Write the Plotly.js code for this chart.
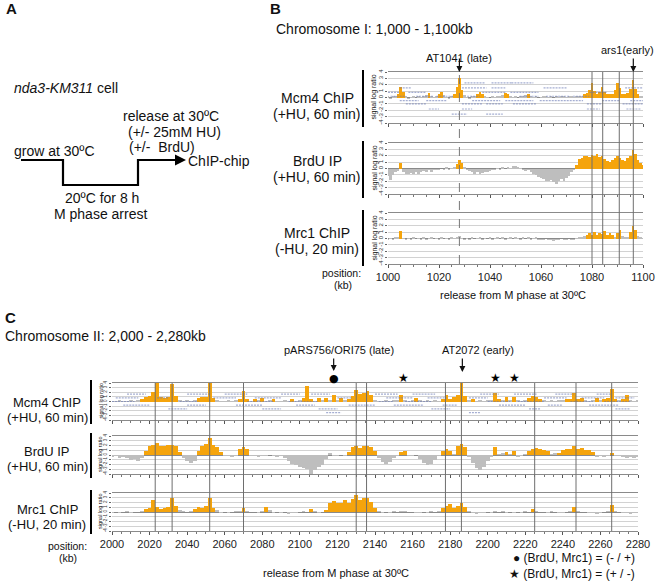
<!DOCTYPE html>
<html><head><meta charset="utf-8">
<script src="https://cdn.plot.ly/plotly-3.0.1.min.js"></script>
<style>html,body{margin:0;padding:0;background:#fff}#chart{width:664px;height:582px}</style>
</head><body><div id="chart"></div>
<script>
// ---------------- DATA ----------------
const trackNames = ["Mcm4 ChIP", "BrdU IP", "Mrc1 ChIP"];
const trackConds = ["(+HU, 60 min)", "(+HU, 60 min)", "(-HU, 20 min)"];
const yTickVals = [-4,-3,-2,-1,0,1,2,3,4];

// Panel B: chromosome I, 1000-1100 kb, one probe value per kb
const startB = 1000, stepB = 1;
const mcm4B = [0.2,-0.2,0.3,0.2,0.6,1.6,0.8,0.2,-0.2,0.1,
 0.2,-0.1,0.2,0.1,0.3,0.4,0.7,0.3,0.1,0.2,
 0.5,0.9,0.4,0.1,-0.2,0.2,0.5,1.6,3.0,1.2,
 0.4,0.1,-0.2,0.2,0.3,0.5,0.9,0.6,0.2,0.1,
 -0.1,0.2,0.1,0.3,0.2,0.4,0.7,0.5,0.2,0.1,
 0.2,-0.1,0.2,0.3,0.4,0.6,0.3,0.1,0.2,-0.1,
 0.1,0.2,0.3,0.1,0.2,-0.1,0.2,0.1,0.3,0.2,
 0.1,0.2,0.3,0.1,0.2,0.3,0.2,0.5,0.7,1.2,
 2.2,1.0,0.6,0.9,1.7,0.8,0.6,0.5,0.6,1.2,
 2.2,1.5,0.6,0.5,0.7,1.4,2.8,1.3,0.6,0.3,0.2];
const brduB = [-1.2,-1.8,-1.0,-0.6,-0.4,0.9,-0.5,-0.8,-0.9,-0.7,
 -0.9,-0.6,-0.8,-0.5,-0.4,-0.6,-0.3,-0.5,-0.3,-0.2,
 -0.3,-0.1,-0.2,0.2,-0.2,0.1,0.3,0.7,1.3,0.8,
 0.3,-0.2,-0.4,-0.6,-0.8,-0.6,-0.9,-0.7,-0.5,-0.6,
 -0.4,-0.3,-0.2,0.1,-0.2,0.2,-0.1,0.3,0.1,0.4,
 0.4,0.3,0.1,-0.2,-0.4,-0.3,-0.6,-0.8,-1.0,-1.3,
 -1.5,-1.7,-1.9,-2.0,-1.8,-2.1,-2.4,-2.0,-1.7,-1.9,
 -1.5,-1.2,-0.5,-0.2,0.6,1.5,1.7,2.0,2.0,1.8,
 2.1,1.9,2.2,1.8,2.0,1.5,1.2,1.0,1.3,1.6,
 1.9,1.7,1.4,1.2,1.6,2.0,2.9,2.2,1.4,0.9,0.6];
const mrc1B = [-0.2,0.1,-0.3,0.2,0.3,1.2,0.1,-0.2,0.1,-0.3,
 0.2,-0.1,0.1,-0.2,0.2,-0.3,0.1,0.2,-0.1,0.1,
 -0.2,0.2,-0.1,0.1,-0.3,0.2,0.1,0.2,0.4,0.1,
 -0.2,0.1,-0.3,0.2,-0.1,0.1,0.2,-0.2,0.1,-0.1,
 0.2,-0.2,0.1,0.3,-0.1,0.2,-0.2,0.1,0.3,-0.1,
 0.2,0.1,-0.2,0.2,-0.1,0.3,-0.2,0.1,0.2,-0.3,
 -0.2,-0.3,-0.1,-0.3,-0.2,-0.4,-0.2,-0.3,-0.1,-0.3,
 -0.2,-0.1,-0.3,-0.2,0.1,0.2,0.3,0.4,0.5,0.8,
 0.6,1.0,0.5,0.9,0.7,1.1,0.6,0.8,0.5,0.3,
 0.9,1.3,0.4,0.2,0.3,1.0,2.0,1.3,0.4,0.2,0.1];
const originsB = [1080, 1084.2, 1090.7, 1096.2];
const lateOriginB = 1028;
const earlyOriginB = 1096.2;
const tickValsB = [1000,1020,1040,1060,1080,1100];
// gene annotation features drawn in the Mcm4 track (start kb, end kb, row level)
const geneStartB = [1030,1040.6,1048.4, 1004.6,1029,1040.6,1061,1093, 1000,1008,1037,1048,1079,
  1001,1011,1019,1031,1051.6,1062,1072.5, 1004.6,1015,1033,1046,1059.5,1084,1095,
  1007,1029,1038.5,1049,1078,1092, 1016,1029,1078,1093.5, 1025,1038.5];
const geneEndB = [1038,1048.4,1057, 1009,1038.6,1046,1070,1100, 1004.6,1015,1046,1059,1086,
  1007,1017.6,1025.5,1036,1059,1071,1079, 1012,1023,1044,1057,1076.5,1091,1100,
  1015,1037,1045,1058,1084,1100, 1020,1033,1083,1099, 1031,1045];
const geneRowB = [2.3,2.3,2.3, 1.5,1.5,1.5,1.5,1.5, 0.8,0.8,0.8,0.8,0.8,
  0.2,0.2,0.2,0.2,0.2,0.2,0.2, -0.5,-0.5,-0.5,-0.5,-0.5,-0.5,-0.5,
  -1.0,-1.0,-1.0,-1.0,-1.0,-1.0, -1.8,-1.8,-1.8,-1.8, -2.6,-2.6];

// Panel C: chromosome II, 2000-2280 kb, one value per 2 kb
const startC = 2000, stepC = 2;
const mcm4C = [0.2,0.1,0.3,0.2,0.1,0.3,0.2,0.4,0.6,0.9,
 1.2,2.0,4.0,0.9,0.7,1.0,3.8,1.1,0.4,0.2,
 0.3,0.2,0.4,0.7,0.9,1.0,4.0,0.8,0.3,0.2,
 0.1,0.3,0.2,0.3,0.6,2.2,0.5,0.2,0.6,0.3,
 0.7,0.2,0.3,0.6,0.2,0.1,0.3,0.2,0.5,0.2,
 0.3,0.8,3.3,0.6,0.2,0.7,0.3,0.8,0.4,1.4,
 0.3,0.8,0.3,0.5,1.2,2.4,1.6,1.9,2.2,1.5,
 0.4,0.2,0.1,0.3,0.2,0.4,0.3,1.5,0.4,0.2,
 0.3,0.8,0.3,0.2,0.4,0.2,0.3,0.2,0.6,1.5,
 0.5,1.0,1.3,4.5,1.2,0.4,0.6,0.2,0.3,0.2,
 0.3,0.4,1.8,0.5,0.3,1.0,0.4,1.0,0.3,0.2,
 0.4,0.8,1.2,1.0,0.6,0.3,0.2,0.3,0.2,0.4,
 0.3,0.5,0.6,1.8,0.5,0.8,0.3,0.2,0.4,0.8,
 0.3,0.6,0.7,2.8,0.5,0.3,0.6,1.5,0.3,0.2,
 0.3];
const brduC = [-0.5,-0.3,-0.7,-0.4,-0.6,-1.0,-0.8,-1.2,-0.6,0.8,
 2.0,2.2,2.6,2.0,1.8,2.2,2.1,1.9,0.7,-0.6,
 -1.2,-1.7,-1.3,0.9,2.0,2.4,3.5,2.2,1.6,0.6,
 -0.3,-0.2,-0.4,-0.2,1.2,1.6,1.3,-0.3,-0.2,-0.4,
 -0.2,-0.3,-0.1,-0.3,-0.5,-0.2,-0.6,-1.2,-1.8,-2.2,
 -2.6,-2.8,-3.0,-4.5,-3.2,-2.6,-2.0,-0.9,0.4,-0.2,
 -0.3,-0.1,-0.3,0.6,1.6,1.8,1.5,1.9,1.8,1.7,
 0.8,-0.6,-1.4,-1.9,-1.5,-0.6,-0.2,0.7,0.9,-0.2,
 -0.3,-0.1,-0.8,-1.6,-2.0,-1.8,-1.0,-0.2,0.9,1.2,
 0.8,0.3,1.8,2.4,1.6,-0.5,-1.6,-2.8,-3.2,-2.6,
 -1.2,-0.4,1.7,0.2,0.4,0.6,0.3,0.8,-0.5,-0.3,
 0.2,0.8,1.3,1.4,1.2,1.1,0.8,0.3,0.4,0.5,
 1.0,1.2,1.3,1.9,1.2,1.5,1.1,1.0,0.6,-0.4,
 -0.3,-0.5,-0.2,0.5,-0.3,-0.2,-0.4,-0.6,-0.5,-0.7,
 -0.4];
const mrc1C = [-0.2,0.1,-0.3,-0.1,0.2,-0.2,0.1,-0.1,0.3,0.6,
 0.9,2.5,1.0,0.7,0.8,1.0,3.0,1.2,0.4,0.2,
 -0.1,0.3,0.6,1.0,0.9,1.2,3.0,0.8,0.4,-0.2,
 0.1,-0.3,-0.1,0.2,0.3,0.8,0.2,-0.1,0.1,-0.2,
 0.3,1.0,0.4,-0.2,0.1,-0.3,-0.1,-0.4,-0.2,-0.3,
 -0.1,0.2,0.1,0.6,0.2,-0.2,-0.1,0.5,1.8,2.3,
 2.0,1.8,2.5,2.0,2.8,3.5,2.6,3.0,2.9,2.2,
 0.8,0.3,-0.2,0.1,-0.2,0.2,-0.1,0.3,0.2,-0.1,
 0.1,-0.2,-0.3,0.1,-0.2,0.2,-0.1,0.3,0.9,1.3,
 1.6,0.9,1.2,1.8,1.0,0.3,-0.2,-0.4,-0.3,-0.2,
 0.1,-0.2,0.3,-0.1,0.2,-0.2,0.1,-0.3,0.1,-0.2,
 0.2,0.1,0.7,0.3,-0.1,0.1,-0.2,0.2,-0.1,-0.3,
 -0.2,0.1,0.3,1.0,0.2,-0.1,0.1,-0.3,-0.2,-0.4,
 -0.2,0.1,0.3,1.5,0.2,-0.1,-0.3,-0.2,-0.4,-0.2,
 -0.3];
const originsC = [2023, 2032, 2052, 2070, 2130, 2135.5, 2177.5, 2186, 2225, 2247, 2266];
const lateOriginC = 2118;     // pARS756/ORI75 (dot)
const earlyOriginC = 2186.5;  // AT2072
const dotSitesC = [2118];
const starSitesC = [2155, 2204, 2214];
const tickValsC = [2000,2020,2040,2060,2080,2100,2120,2140,2160,2180,2200,2220,2240,2260,2280];
const geneStartC = [2008,2040,2060,2090,2106,2140,2160,2196,2214,2236,2258,
  2002,2024,2054,2076,2120,2146,2168,2190,2230,2250,2268,
  2000,2036,2072,2094,2142,2156,2200,2216,2244,2262,
  2006,2040,2066,2098,2126,2150,2176,2206,2232,2254,
  2030,2080,2110,2170,2222,2268, 2114,2190];
const geneEndC = [2018,2052,2072,2100,2116,2152,2172,2206,2226,2246,2266,
  2014,2030,2066,2090,2128,2160,2178,2200,2242,2262,2278,
  2012,2046,2086,2110,2150,2170,2212,2230,2256,2276,
  2020,2050,2080,2108,2140,2166,2184,2220,2240,2270,
  2040,2090,2120,2180,2228,2276, 2122,2196];
const geneRowC = [1.6,1.6,1.6,1.6,1.6,1.6,1.6,1.6,1.6,1.6,1.6,
  0.8,0.8,0.8,0.8,0.8,0.8,0.8,0.8,0.8,0.8,0.8,
  0,0,0,0,0,0,0,0,0,0,
  -0.8,-0.8,-0.8,-0.8,-0.8,-0.8,-0.8,-0.8,-0.8,-0.8,
  -1.6,-1.6,-1.6,-1.6,-1.6,-1.6, -2.4,-2.4];
const sigThreshold = 0.5;

// ---------------- LAYOUT HELPERS ----------------
const W = 664, H = 582;
const P = x => x / W;
const Q = y => 1 - y / H;
const FONT = "Liberation Sans, Arial, sans-serif";
const ORANGE = "#F5A40C", GRAY = "#BEBEBE", GENE = "rgba(105,120,180,0.6)";

const panelB = {x0: 388, x1: 643, tracks: [[72,123],[143,194],[213,264]], range: [1000,1100]};
const panelC = {x0: 112, x1: 638, tracks: [[383,420],[436,474],[493,531]], range: [2000,2280]};

const layout = {
  width: W, height: H, margin: {l:0,r:0,t:0,b:0},
  paper_bgcolor: "#fff", plot_bgcolor: "rgba(0,0,0,0)",
  showlegend: false, bargap: 0, font: {family: FONT, color: "#222"},
  annotations: [], shapes: []
};
const traces = [];

function addPanel(panel, axStart, series, start, step, tickVals, tickFont) {
  for (let t = 0; t < 3; t++) {
    const n = axStart + t;
    const xk = n === 1 ? "xaxis" : "xaxis" + n;
    const yk = n === 1 ? "yaxis" : "yaxis" + n;
    const xr = n === 1 ? "x" : "x" + n;
    const yr = n === 1 ? "y" : "y" + n;
    const [top, bot] = panel.tracks[t];
    const last = t === 2;
    layout[xk] = {
      domain: [P(panel.x0), P(panel.x1)], range: panel.range, anchor: yr,
      showline: true, mirror: true, linecolor: "#8a8a8a", linewidth: 1,
      showgrid: false, zeroline: false, tickmode: "array", tickvals: tickVals,
      ticks: "outside", ticklen: 3, tickcolor: "#555",
      minor: {dtick: 5, ticks: "outside", ticklen: 2, tickcolor: "#777"},
      showticklabels: last, tickfont: {size: 11, family: FONT, color: "#222"}
    };
    layout[yk] = {
      domain: [Q(bot), Q(top)], range: [-4, 4], anchor: xr,
      showline: false, showgrid: true, gridcolor: "#d2d2d2", gridwidth: 1,
      zeroline: true, zerolinecolor: "#8a8a8a", zerolinewidth: 1,
      tickmode: "array", tickvals: yTickVals, ticktext: yTickVals.map(String),
      tickangle: -90, ticks: "outside", ticklen: 2, tickcolor: "#666",
      tickfont: {size: tickFont, family: FONT, color: "#333"}
    };
    const vals = series[t];
    const xs = vals.map((v, i) => start + i * step);
    traces.push({
      type: "bar", x: xs, y: vals, xaxis: xr, yaxis: yr, width: step,
      marker: {color: vals.map(v => v >= sigThreshold ? ORANGE : GRAY), line: {width: 0}},
      cliponaxis: false, hoverinfo: "x+y"
    });
  }
}

addPanel(panelB, 1, [mcm4B, brduB, mrc1B], startB, stepB, tickValsB, 6);
addPanel(panelC, 4, [mcm4C, brduC, mrc1C], startC, stepC, tickValsC, 4.5);

// gene annotation features in Mcm4 tracks
function geneTrace(s, e, r, xr, yr) {
  const gx = [], gy = [];
  s.forEach((v, i) => { gx.push(v, e[i], null); gy.push(r[i], r[i], null); });
  return {type: "scatter", mode: "lines", x: gx, y: gy, xaxis: xr, yaxis: yr,
    line: {color: GENE, width: 1.2, dash: "2px,1px"}, hoverinfo: "skip"};
}
traces.push(geneTrace(geneStartB, geneEndB, geneRowB, "x", "y"));
traces.push(geneTrace(geneStartC, geneEndC, geneRowC, "x4", "y4"));

// ---------------- SHAPES ----------------
const S = layout.shapes;
originsB.forEach(o => S.push({type: "line", xref: "x", yref: "paper", x0: o, x1: o,
  y0: Q(264), y1: Q(72), line: {color: "#6e6e6e", width: 1}, layer: "above"}));
S.push({type: "line", xref: "x", yref: "paper", x0: lateOriginB, x1: lateOriginB,
  y0: Q(264), y1: Q(72), line: {color: "#777", width: 1, dash: "dash"}, layer: "above"});
originsC.forEach(o => S.push({type: "line", xref: "x4", yref: "paper", x0: o, x1: o,
  y0: Q(531), y1: Q(383), line: {color: "#6e6e6e", width: 1}, layer: "above"}));
// black bars next to track labels
[[70,127],[141,198],[210,266]].forEach(([a,b]) => S.push({type:"line", xref:"paper", yref:"paper",
  x0: P(363), x1: P(363), y0: Q(a), y1: Q(b), line: {color: "#000", width: 2}}));
[[380,424],[433,478],[490,534]].forEach(([a,b]) => S.push({type:"line", xref:"paper", yref:"paper",
  x0: P(91), x1: P(91), y0: Q(a), y1: Q(b), line: {color: "#000", width: 2}}));
// panel A step diagram
S.push({type: "path", xref: "paper", yref: "paper",
  path: `M ${P(21)},${Q(160)} L ${P(63)},${Q(160)} L ${P(63)},${Q(185)} L ${P(138)},${Q(185)} L ${P(138)},${Q(160)} L ${P(176)},${Q(160)}`,
  line: {color: "#000", width: 2.2}});

// ---------------- ANNOTATIONS ----------------
const A = layout.annotations;
function txt(text, x, y, size, opts = {}) {
  A.push(Object.assign({text, x: P(x), y: Q(y), xref: "paper", yref: "paper", showarrow: false,
    xanchor: "center", yanchor: "middle", font: {size, family: FONT, color: "#111"}}, opts));
}
function arrow(xref, x, yTip, len) {
  A.push({text: "", xref, yref: "paper", x, y: Q(yTip), ax: 0, ay: -len, showarrow: true,
    arrowhead: 2, arrowsize: 1, arrowwidth: 1.2, arrowcolor: "#111"});
}
// Panel A
txt("<b>A</b>", 4, 9, 15, {xanchor: "left"});
txt("<i>nda3-KM311</i> cell", 12, 88, 14, {xanchor: "left"});
txt("release at 30ºC", 171, 116, 14);
txt("(+/- 25mM HU)", 174, 132, 14);
txt("(+/-  BrdU)", 127, 147, 14, {xanchor: "left"});
txt("grow at 30ºC", 12, 151, 14, {xanchor: "left"});
txt("ChIP-chip", 186, 161, 14, {xanchor: "left"});
A.push({text: "", xref: "paper", yref: "paper", x: P(186), y: Q(160), ax: -14, ay: 0,
  showarrow: true, arrowhead: 2, arrowsize: 1, arrowwidth: 2.2, arrowcolor: "#000"});
txt("20ºC for 8 h", 102, 198, 14);
txt("M phase arrest", 100, 214, 14);

// Panel B
txt("<b>B</b>", 268, 9, 15, {xanchor: "left"});
txt("Chromosome I: 1,000 - 1,100kb", 274, 29, 14, {xanchor: "left"});
A.push({text: "AT1041 (late)", xref: "x", yref: "paper", x: lateOriginB, y: Q(50), showarrow: false,
  font: {size: 11, family: FONT, color: "#111"}});
arrow("x", lateOriginB, 72, 15);
txt("ars1(early)", 627, 50, 11);
arrow("x", earlyOriginB, 72, 15);
const bLabY = [[98,114],[161,177],[233,249]];
for (let t = 0; t < 3; t++) {
  txt(trackNames[t], 317, bLabY[t][0], 14);
  txt(trackConds[t], 317, bLabY[t][1], 14);
  txt("signal log ratio", 374, (panelB.tracks[t][0] + panelB.tracks[t][1]) / 2, 7, {textangle: -90});
}
txt("position:", 363, 273, 10.5, {xanchor: "right"});
txt("(kb)", 343, 285, 10.5);
txt("release from M phase at 30ºC", 513, 295, 11);

// Panel C
txt("<b>C</b>", 3, 318, 15, {xanchor: "left"});
txt("Chromosome II: 2,000 - 2,280kb", 3, 336, 14, {xanchor: "left"});
txt("pARS756/ORI75 (late)", 339, 350, 11);
arrow("x4", lateOriginC, 371, 14);
txt("AT2072 (early)", 478, 350, 11);
arrow("x4", earlyOriginC, 372, 15);
// dot and star marks above the Mcm4 track
dotSitesC.forEach(s => A.push({text: "●", xref: "x4", yref: "paper", x: s, y: Q(378), showarrow: false,
  font: {size: 11, family: "DejaVu Sans", color: "#000"}}));
starSitesC.forEach(s => A.push({text: "★", xref: "x4", yref: "paper", x: s, y: Q(378), showarrow: false,
  font: {size: 12, family: "DejaVu Sans", color: "#000"}}));
const cLabY = [[402,417],[451,466],[509,524]];
for (let t = 0; t < 3; t++) {
  txt(trackNames[t], 47, cLabY[t][0], 13);
  txt(trackConds[t], 47, cLabY[t][1], 13);
  txt("signal log ratio", 100, (panelC.tracks[t][0] + panelC.tracks[t][1]) / 2, 5.5, {textangle: -90});
}
txt("position:", 89, 546, 10.5, {xanchor: "right"});
txt("(kb)", 68, 558, 10.5);
txt("release from M phase at 30ºC", 336, 573, 11);
txt("● (BrdU, Mrc1) = (- / +)", 637, 558, 12, {xanchor: "right"});
txt("★ (BrdU, Mrc1) = (+ / -)", 637, 574, 12, {xanchor: "right"});

Plotly.newPlot("chart", traces, layout, {staticPlot: true, displayModeBar: false});
</script></body></html>
